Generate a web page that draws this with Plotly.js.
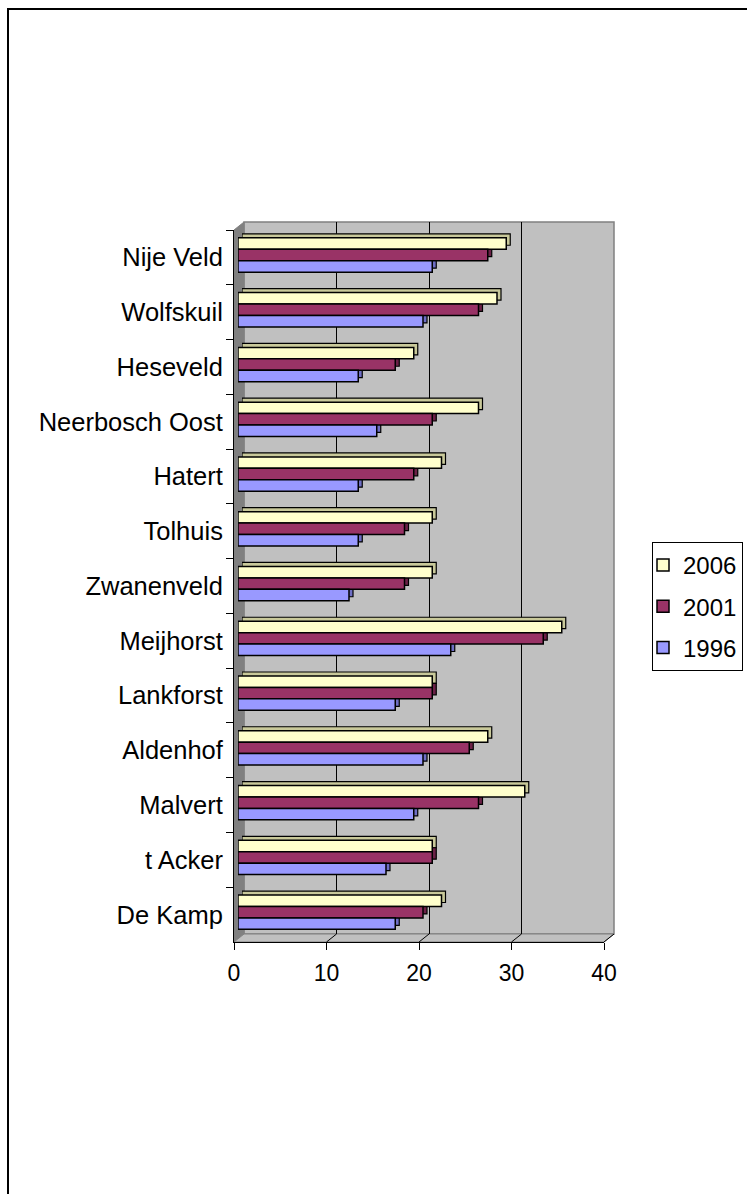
<!DOCTYPE html>
<html><head><meta charset="utf-8">
<script src="https://cdn.plot.ly/plotly-3.0.1.min.js"></script>
<style>html,body{margin:0;padding:0;background:#fff}#chart{width:747px;height:1194px}</style>
</head><body><div id="chart"></div>
<script>
// ---- data (top to bottom as shown) ----
const categories = ['Nije Veld','Wolfskuil','Heseveld','Neerbosch Oost','Hatert','Tolhuis','Zwanenveld','Meijhorst','Lankforst','Aldenhof','Malvert','t Acker','De Kamp'];
const v2006 = [29,28,19,26,22,21,21,35,21,27,31,21,22];
const v2001 = [27,26,17,21,19,18,18,33,21,25,26,21,20];
const v1996 = [21,20,13,15,13,13,12,23,17,20,19,16,17];
const seriesNames = ['2006','2001','1996'];
const xTicks = [0,10,20,30,40];
const gridTicks = [10,20,30];

// ---- styles / geometry ----
const faceColors = ['#FFFFCC','#993366','#9999FF'];
const depthColors = ['#C9C99A','#6B2147','#6E6EC4'];
const FONT = 'Liberation Sans, Arial, sans-serif';
const W=747, H=1194;
const L=234, R=614, T=222, B=942;          // outer plot area (px)
const PW=R-L, PH=B-T;
const FX0=234, FX1=604, FY0=942, FY1=230;  // front plane (px)
const WDX=10, WDY=8;                       // wall depth
const BDX=4, BDY=2.4;                      // bar face shift
const EDX=4, EDY=4;                        // bar extrusion
const px = x => (x-L)/PW, py = y => (B-y)/PH;
const dx = (a,b) => [px(a), px(b)];
const dy = (bot,top) => [py(bot), py(top)];
const xMax = xTicks[xTicks.length-1];
const pxPerUnit = (FX1-FX0)/xMax;
const catRange = [categories.length-0.5, -0.5];

const valuesList = [v2006, v2001, v1996];
const traces = [];
traces.push({type:'scatter', x:[], y:[], xaxis:'x', yaxis:'y', showlegend:false, hoverinfo:'skip'});
valuesList.forEach((vals,i)=>{
  traces.push({type:'bar', orientation:'h', y:categories, x:vals, xaxis:'x2', yaxis:'y2',
    marker:{color:depthColors[i], line:{color:'#000', width:1.2}}, showlegend:false, hoverinfo:'skip'});
});
valuesList.forEach((vals,i)=>{
  traces.push({type:'bar', orientation:'h', y:categories, x:vals, xaxis:'x3', yaxis:'y3', name:seriesNames[i],
    legendgroup:'g'+i, marker:{color:faceColors[i], line:{color:'#000', width:1.5}}, hoverinfo:'skip'});
});
traces.push({type:'scatter', mode:'markers', y:categories, x:v2006, xaxis:'x4', yaxis:'y4',
  marker:{opacity:0}, showlegend:false, hoverinfo:'skip'});

const catAxis = (dom, anchor) => ({domain:dom, anchor:anchor, type:'category', categoryorder:'array',
  categoryarray:categories, range:catRange, visible:false});
const linAxis = (dom, anchor) => ({domain:dom, anchor:anchor, range:[0,xMax], visible:false});

const shapes = [];
shapes.push({type:'rect', xref:'paper', yref:'paper', layer:'below', x0:px(8), x1:px(W+20), y0:py(H+20), y1:py(9),
  line:{color:'#000', width:2}});
shapes.push({type:'rect', xref:'paper', yref:'paper', layer:'below', x0:px(FX0+WDX), x1:px(FX1+WDX), y0:py(FY0-WDY), y1:py(FY1-WDY),
  fillcolor:'#C0C0C0', line:{color:'#808080', width:1.5}});
shapes.push({type:'path', xref:'paper', yref:'paper', layer:'below',
  path:`M${px(FX0)},${py(FY0)} L${px(FX0)},${py(FY1)} L${px(FX0+WDX)},${py(FY1-WDY)} L${px(FX0+WDX)},${py(FY0-WDY)} Z`,
  fillcolor:'#808080', line:{color:'#808080', width:1}});
shapes.push({type:'path', xref:'paper', yref:'paper', layer:'below',
  path:`M${px(FX0)},${py(FY0)} L${px(FX1)},${py(FY0)} L${px(FX1+WDX)},${py(FY0-WDY)} L${px(FX0+WDX)},${py(FY0-WDY)} Z`,
  fillcolor:'#C0C0C0', line:{color:'#808080', width:1}});
xTicks.slice(1).forEach(v=>{
  const xf = FX0 + v*pxPerUnit;
  shapes.push({type:'line', xref:'paper', yref:'paper', layer:'below',
    x0:px(xf), y0:py(FY0), x1:px(xf+WDX), y1:py(FY0-WDY), line:{color:'#000', width:1}});
});

const layout = {
  width:W, height:H, margin:{l:L, r:W-R, t:T, b:H-B, pad:0, autoexpand:false},
  paper_bgcolor:'#fff', plot_bgcolor:'rgba(0,0,0,0)',
  font:{family:FONT, color:'#000', size:22},
  barmode:'group', bargap:0.374, bargroupgap:0,
  hovermode:false,
  xaxis:{domain:dx(FX0+WDX, FX1+WDX), anchor:'y', range:[0,xMax], tickmode:'array', tickvals:gridTicks,
    showgrid:true, gridcolor:'#000', gridwidth:1, showticklabels:false, ticks:'', zeroline:false, showline:false},
  yaxis:{domain:dy(FY0-WDY, FY1-WDY), anchor:'x', range:[0,1], showgrid:false, showticklabels:false, ticks:'', zeroline:false, showline:false},
  xaxis2: linAxis(dx(FX0+BDX+EDX, FX1+BDX+EDX), 'y2'),
  yaxis2: catAxis(dy(FY0-BDY-EDY, FY1-BDY-EDY), 'x2'),
  xaxis3: linAxis(dx(FX0+BDX, FX1+BDX), 'y3'),
  yaxis3: catAxis(dy(FY0-BDY, FY1-BDY), 'x3'),
  xaxis4:{domain:dx(FX0, FX1), anchor:'y4', range:[0,xMax], tickmode:'array', tickvals:xTicks,
    ticks:'outside', ticklen:7, tickcolor:'#000', tickwidth:1, showline:true, linecolor:'#000', linewidth:1,
    showgrid:false, zeroline:false, tickfont:{size:23, family:FONT, color:'#000'}, ticklabelstandoff:3},
  yaxis4:{domain:dy(FY0, FY1), anchor:'x4', type:'category', categoryorder:'array', categoryarray:categories,
    range:catRange, tickson:'boundaries', ticks:'outside', ticklen:7, tickcolor:'#000', tickwidth:1,
    showline:true, linecolor:'#000', linewidth:1, showgrid:false, zeroline:false, ticklabelstandoff:5,
    tickfont:{size:25.5, family:FONT, color:'#000'}},
  legend:{x:px(652), y:py(542), xanchor:'left', yanchor:'top', traceorder:'grouped', tracegroupgap:7, indentation:-10,
    bgcolor:'#fff', bordercolor:'#000', borderwidth:1, font:{size:24, family:FONT, color:'#000'}},
  shapes:shapes
};
Plotly.newPlot('chart', traces, layout, {staticPlot:true, displayModeBar:false});
</script></body></html>
